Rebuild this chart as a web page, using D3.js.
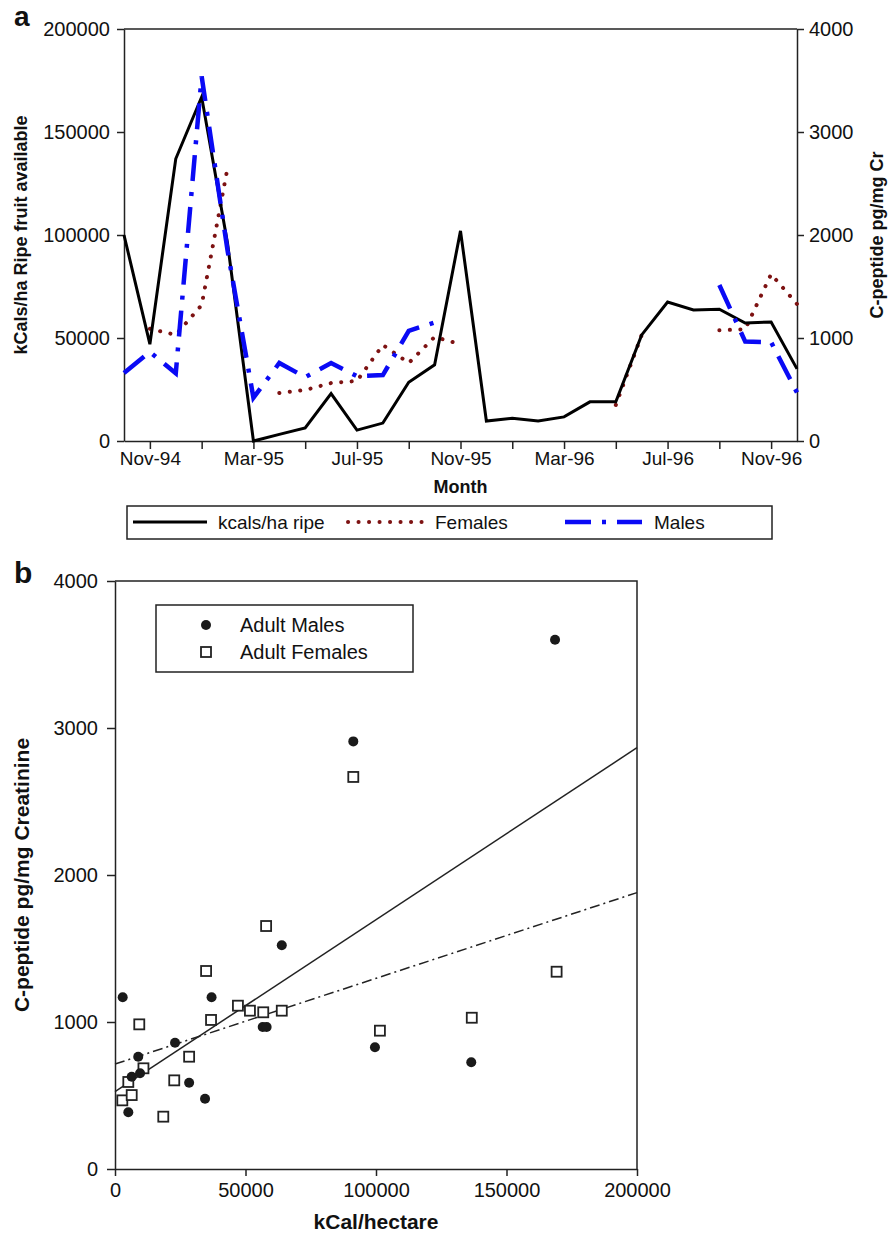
<!DOCTYPE html>
<html lang="en">
<head>
  <meta charset="UTF-8">
  <script src="https://cdnjs.cloudflare.com/ajax/libs/d3/7.8.5/d3.min.js"></script>
  <style>
    body { margin: 0; background: #fff; font-family: 'Liberation Sans', Arial, sans-serif; }
    svg text { font-family: 'Liberation Sans', Arial, sans-serif; fill: #111; }
    .axis path, .axis line { stroke: #222; stroke-width: 1.5; }
  </style>
  <title>C-peptide and fruit availability</title>
</head>
<body>
<div id="chart"></div>
<script>
// ---- panel a: monthly series (Oct-94 .. Dec-96) ----
const months = ["Oct-94","Nov-94","Dec-94","Jan-95","Feb-95","Mar-95","Apr-95","May-95","Jun-95",
  "Jul-95","Aug-95","Sep-95","Oct-95","Nov-95","Dec-95","Jan-96","Feb-96","Mar-96","Apr-96",
  "May-96","Jun-96","Jul-96","Aug-96","Sep-96","Oct-96","Nov-96","Dec-96"];
const kcals = [100000, 47000, 137000, 167000, 96000, 0, 3200, 6300, 23000, 5300, 8700, 28500, 37000,
  102000, 9700, 11000, 9700, 11700, 19000, 19000, 51500, 67500, 63600, 64000, 57300, 57800, 35000];
const females = [null, 1090, 1030, 1320, 2650, null, 466, 495, 563, 583, 932, 757, 1010,
  940, null, null, null, null, null, 350, 1030, null, null, 1075, 1085, 1620, 1330];
const males = [660, 865, 657, 3540, 1850, 420, 757, 620, 757, 630, 640, 1070, 1150,
  null, null, null, null, null, null, null, null, null, null, 1515, 965, 960, 470];
const monthTicks = ["Nov-94","Jan-95","Mar-95","May-95","Jul-95","Sep-95","Nov-95","Jan-96",
  "Mar-96","May-96","Jul-96","Sep-96","Nov-96"];
const monthLabels = ["Nov-94","Mar-95","Jul-95","Nov-95","Mar-96","Jul-96","Nov-96"];
const kcalTicks = [0, 50000, 100000, 150000, 200000];
const cpepTicks = [0, 1000, 2000, 3000, 4000];

// ---- panel b: scatter [kCal/ha, C-peptide] ----
const adultMales = [[2950,1168],[5100,386],[6400,628],[8900,764],[9600,651],[23000,859],[28400,587],
  [34500,478],[37000,1168],[56600,966],[58100,966],[63900,1522],[91300,2909],[99600,828],
  [136500,726],[168600,3600]];
const adultFemales = [[2800,467],[5100,592],[6400,503],[9300,984],[10900,685],[18500,356],[22700,603],
  [28400,764],[34900,1347],[36800,1014],[47100,1111],[51700,1077],[56800,1066],[57900,1653],
  [63900,1077],[91300,2667],[101500,941],[136700,1029],[169200,1342]];
// fitted lines, value at x=0 and x=200000
const maleFit = [[0, 526], [200000, 2866]];
const femaleFit = [[0, 714], [200000, 1880]];
const kcalHaTicks = [0, 50000, 100000, 150000, 200000];

const svg = d3.select("#chart").append("svg").attr("width", 889).attr("height", 1234);

const RED = "#7d1212", BLUE = "#0a0af5";
const dotDash = "0.1 10.4", blueDash = "26 11 4 11";

// ================= panel a =================
const a = { left: 124, right: 797, top: 29, bottom: 441 };
const x = d3.scalePoint().domain(months).range([a.left, a.right]);
const yL = d3.scaleLinear().domain([0, 200000]).range([a.bottom, a.top]);
const yR = d3.scaleLinear().domain([0, 4000]).range([a.bottom, a.top]);

svg.append("line").attr("x1", a.left).attr("x2", a.right).attr("y1", a.top).attr("y2", a.top)
  .attr("stroke", "#222").attr("stroke-width", 1.5);

const xa = svg.append("g").attr("class", "axis").attr("transform", `translate(0,${a.bottom})`)
  .call(d3.axisBottom(x).tickValues(monthTicks).tickSize(8).tickSizeOuter(0).tickPadding(3)
    .tickFormat(d => monthLabels.includes(d) ? d : ""));
xa.selectAll("text").attr("font-size", 19);

const yla = svg.append("g").attr("class", "axis").attr("transform", `translate(${a.left},0)`)
  .call(d3.axisLeft(yL).tickValues(kcalTicks).tickSize(7).tickSizeOuter(0).tickPadding(7).tickFormat(d3.format("d")));
yla.selectAll("text").attr("font-size", 20);

const yra = svg.append("g").attr("class", "axis").attr("transform", `translate(${a.right},0)`)
  .call(d3.axisRight(yR).tickValues(cpepTicks).tickSize(7).tickSizeOuter(0).tickPadding(5).tickFormat(d3.format("d")));
yra.selectAll("text").attr("font-size", 20);

const lineL = d3.line().defined(d => d[1] != null).x(d => x(d[0])).y(d => yL(d[1]));
const lineR = d3.line().defined(d => d[1] != null).x(d => x(d[0])).y(d => yR(d[1]));

svg.append("path").datum(months.map((m, i) => [m, females[i]]))
  .attr("d", lineR).attr("fill", "none").attr("stroke", RED).attr("stroke-width", 4)
  .attr("stroke-linecap", "round").attr("stroke-dasharray", dotDash);
svg.append("path").datum(months.map((m, i) => [m, kcals[i]]))
  .attr("d", lineL).attr("fill", "none").attr("stroke", "#000").attr("stroke-width", 3);
svg.append("path").datum(months.map((m, i) => [m, males[i]]))
  .attr("d", lineR).attr("fill", "none").attr("stroke", BLUE).attr("stroke-width", 4.5)
  .attr("stroke-dasharray", blueDash);

svg.append("text").attr("x", 14).attr("y", 26).attr("font-size", 28).attr("font-weight", "bold").text("a");
svg.append("text").attr("transform", `translate(27,${(a.top + a.bottom) / 2}) rotate(-90)`)
  .attr("text-anchor", "middle").attr("font-size", 18).attr("font-weight", "bold")
  .text("kCals/ha Ripe fruit available");
svg.append("text").attr("transform", `translate(883,${(a.top + a.bottom) / 2}) rotate(-90)`)
  .attr("text-anchor", "middle").attr("font-size", 18).attr("font-weight", "bold")
  .text("C-peptide pg/mg Cr");
svg.append("text").attr("x", (a.left + a.right) / 2).attr("y", 493).attr("text-anchor", "middle")
  .attr("font-size", 18).attr("font-weight", "bold").text("Month");

// legend a
const lg = svg.append("g");
lg.append("rect").attr("x", 127).attr("y", 506).attr("width", 645).attr("height", 33)
  .attr("fill", "none").attr("stroke", "#222").attr("stroke-width", 1.5);
lg.append("line").attr("x1", 133).attr("x2", 207).attr("y1", 522).attr("y2", 522)
  .attr("stroke", "#000").attr("stroke-width", 3);
lg.append("text").attr("x", 218).attr("y", 529).attr("font-size", 19).text("kcals/ha ripe");
lg.append("line").attr("x1", 348).attr("x2", 422).attr("y1", 522).attr("y2", 522)
  .attr("stroke", RED).attr("stroke-width", 4).attr("stroke-linecap", "round").attr("stroke-dasharray", dotDash);
lg.append("text").attr("x", 435).attr("y", 529).attr("font-size", 19).text("Females");
lg.append("line").attr("x1", 565).attr("x2", 642).attr("y1", 522).attr("y2", 522)
  .attr("stroke", BLUE).attr("stroke-width", 4.5).attr("stroke-dasharray", blueDash);
lg.append("text").attr("x", 654).attr("y", 529).attr("font-size", 19).text("Males");

// ================= panel b =================
const b = { left: 115, right: 637, top: 581, bottom: 1169 };
const bx = d3.scaleLinear().domain([0, 200000]).range([b.left, b.right]);
const by = d3.scaleLinear().domain([0, 4000]).range([b.bottom, b.top]);

svg.append("path").attr("d", `M${b.left},${b.top}H${b.right}V${b.bottom}`)
  .attr("fill", "none").attr("stroke", "#222").attr("stroke-width", 1.5);

const bxa = svg.append("g").attr("class", "axis").attr("transform", `translate(0,${b.bottom})`)
  .call(d3.axisBottom(bx).tickValues(kcalHaTicks).tickSize(7).tickSizeOuter(0).tickPadding(7).tickFormat(d3.format("d")));
bxa.selectAll("text").attr("font-size", 20);
const bya = svg.append("g").attr("class", "axis").attr("transform", `translate(${b.left},0)`)
  .call(d3.axisLeft(by).tickValues(cpepTicks).tickSize(8).tickSizeOuter(0).tickPadding(9).tickFormat(d3.format("d")));
bya.selectAll("text").attr("font-size", 20);

const fitLine = d3.line().x(d => bx(d[0])).y(d => by(d[1]));
svg.append("path").datum(maleFit).attr("d", fitLine).attr("stroke", "#222").attr("stroke-width", 1.5).attr("fill", "none");
svg.append("path").datum(femaleFit).attr("d", fitLine).attr("stroke", "#222").attr("stroke-width", 1.5)
  .attr("fill", "none").attr("stroke-dasharray", "10 4 2 4");

svg.append("g").selectAll("rect").data(adultFemales).join("rect")
  .attr("x", d => bx(d[0]) - 5).attr("y", d => by(d[1]) - 5).attr("width", 10).attr("height", 10)
  .attr("fill", "#fff").attr("stroke", "#222").attr("stroke-width", 1.8);
svg.append("g").selectAll("circle").data(adultMales).join("circle")
  .attr("cx", d => bx(d[0])).attr("cy", d => by(d[1])).attr("r", 5).attr("fill", "#1a1a1a");

svg.append("text").attr("x", 14).attr("y", 583).attr("font-size", 30).attr("font-weight", "bold").text("b");
svg.append("text").attr("transform", `translate(29,${(b.top + b.bottom) / 2}) rotate(-90)`)
  .attr("text-anchor", "middle").attr("font-size", 21).attr("font-weight", "bold")
  .text("C-peptide pg/mg Creatinine");
svg.append("text").attr("x", (b.left + b.right) / 2).attr("y", 1229).attr("text-anchor", "middle")
  .attr("font-size", 21).attr("font-weight", "bold").text("kCal/hectare");

// legend b
const lb = svg.append("g");
lb.append("rect").attr("x", 156).attr("y", 605).attr("width", 257).attr("height", 67)
  .attr("fill", "#fff").attr("stroke", "#222").attr("stroke-width", 1.5);
lb.append("circle").attr("cx", 206).attr("cy", 625).attr("r", 5).attr("fill", "#1a1a1a");
lb.append("rect").attr("x", 201).attr("y", 647).attr("width", 10).attr("height", 10)
  .attr("fill", "#fff").attr("stroke", "#222").attr("stroke-width", 1.8);
lb.append("text").attr("x", 240).attr("y", 632).attr("font-size", 20).text("Adult Males");
lb.append("text").attr("x", 240).attr("y", 659).attr("font-size", 20).text("Adult Females");
</script>
</body>
</html>
